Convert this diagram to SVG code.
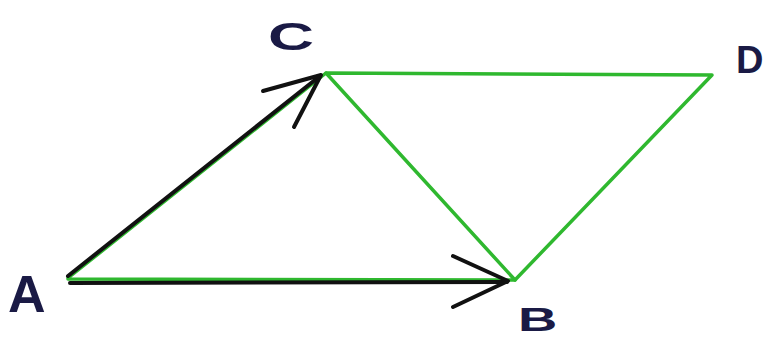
<svg xmlns="http://www.w3.org/2000/svg" width="779" height="340" viewBox="0 0 779 340">
<style>
.g{stroke:#2fb82f;stroke-width:3.5;fill:none;stroke-linecap:round;stroke-linejoin:round}
.k{stroke:#111;stroke-width:4;fill:none;stroke-linecap:round;stroke-linejoin:round}
.lbl{font-family:"Liberation Sans",Arial,sans-serif;fill:#1a1a45;font-weight:bold}
</style>
<rect width="779" height="340" fill="#fff"/>
<g id="edges">
<polyline class="g" points="68,278 326,73 712,75 515,280 68,279"/>
<line class="g" x1="326" y1="73" x2="515" y2="280"/>
<line class="k" x1="68" y1="276" x2="320" y2="76"/>
<polyline class="k" points="263,91 321,75 294,127"/>
<line class="k" x1="70" y1="283" x2="507" y2="282"/>
<polyline class="k" points="453,256 508,281 453,307"/>
</g>
<g id="A"><text class="lbl" x="8" y="312" font-size="52">A</text></g>
<g id="C"><text class="lbl" x="0" y="0" font-size="44" transform="translate(268,50) scale(1.45,0.9)">C</text></g>
<g id="B"><text class="lbl" x="0" y="0" font-size="34" transform="translate(518,331) scale(1.6,1)">B</text></g>
<g id="D"><text class="lbl" x="736" y="73" font-size="38">D</text></g>
</svg>
